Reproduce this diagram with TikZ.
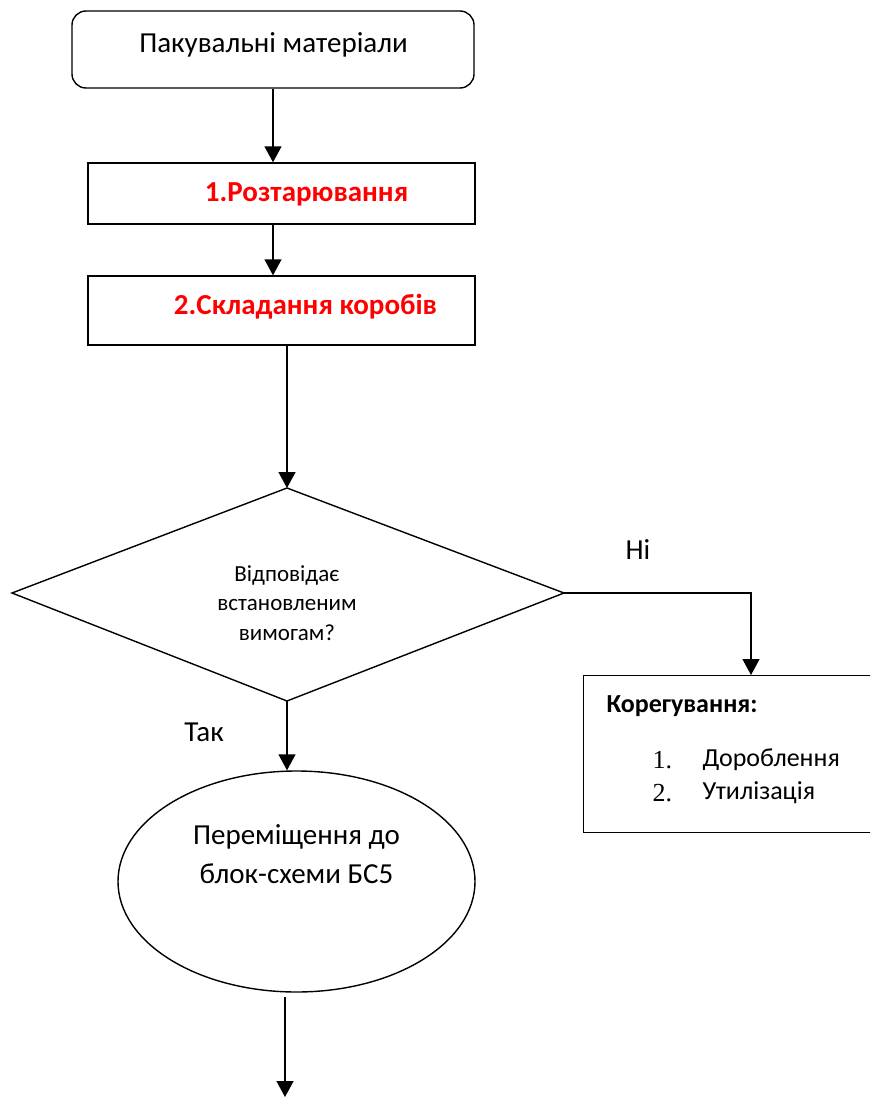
\documentclass[tikz,border=0pt]{standalone}
\usepackage{fontspec}
\setmainfont{Carlito}
\newfontfamily\numfont{Liberation Serif}
\usetikzlibrary{arrows.meta,shapes.geometric}
\tikzset{
  line/.style={line width=1.4pt},
  arr/.style={line, -{Triangle[length=16pt,width=17pt]}},
  boxshape/.style={draw, line width=1.4pt, rectangle, inner sep=0pt},
  bigtxt/.style={font=\fontsize{29}{38.5}\selectfont},
  redtxt/.style={text=red, font=\fontsize{29}{34}\selectfont\bfseries},
  cortxt/.style={font=\fontsize{26}{31}\selectfont, anchor=west},
}
\begin{document}
\begin{tikzpicture}[x=1pt,y=-1pt]
\useasboundingbox (0,0) rectangle (870,1097);
\clip (0,0) rectangle (870,1097);
% start box
\node[boxshape, rounded corners=14pt, minimum width=402pt, minimum height=77pt] (start) at (273,49.5) {};
\node[bigtxt] (startt) at (273.5,45) {Пакувальні матеріали};
% box 1
\node[boxshape, minimum width=387pt, minimum height=61pt] (b1) at (281.5,193.5) {};
\node[redtxt] (b1t) at (306.5,194) {1.Розтарювання};
% box 2
\node[boxshape, minimum width=387pt, minimum height=69pt] (b2) at (281.5,310.5) {};
\node[redtxt] (b2t) at (305.5,307) {2.Складання коробів};
% decision
\coordinate (dT) at (287,488);
\coordinate (dB) at (287,701);
\coordinate (dL) at (12,593);
\coordinate (dR) at (564,593);
\draw[line, line join=miter] (dT) -- (dR) -- (dB) -- (dL) -- cycle;
\node[font=\fontsize{23}{29.5}\selectfont, align=center] (dt) at (287,603) {Відповідає\\встановленим\\вимогам?};
% ellipse
\node[draw, line width=1.4pt, ellipse, minimum width=357pt, minimum height=221pt, inner sep=0pt] (ell) at (296.5,881.5) {};
\node[bigtxt, align=center] (ellt) at (296.5,854) {Переміщення до\\блок-схеми БС5};
% correction box
\node[boxshape, anchor=north west, minimum width=320pt, minimum height=157pt] (cor) at (583,675) {};
\node[cortxt, font=\fontsize{26}{31}\selectfont\bfseries] (cort) at (603,706) {Корегування:};
\node[cortxt, font=\fontsize{26}{31}\selectfont\numfont] (n1) at (649,760) {1.};
\node[cortxt] (i1) at (699,760) {Дороблення};
\node[cortxt, font=\fontsize{26}{31}\selectfont\numfont] (n2) at (649,793) {2.};
\node[cortxt] (i2) at (699,793) {Утилізація};
% labels
\node[bigtxt] (ni) at (638,550) {Ні};
\node[bigtxt] (tak) at (204,732) {Так};
% connectors
\coordinate (endc) at (285,1097);
\coordinate (endstart) at (285,997);
\coordinate (cornerR) at (751,593);
\draw[arr] (start.south -| 273,0) -- (b1.north -| 273,0);
\draw[arr] (b1.south -| 273,0) -- (b2.north -| 273,0);
\draw[arr] (b2.south -| dT) -- (dT);
\draw[arr] (dR) -- (cornerR) -- (cor.north -| cornerR);
\draw[arr] (dB) -- (ell.north -| dB);
\draw[arr] (endstart) -- (endc);
\end{tikzpicture}
\end{document}
